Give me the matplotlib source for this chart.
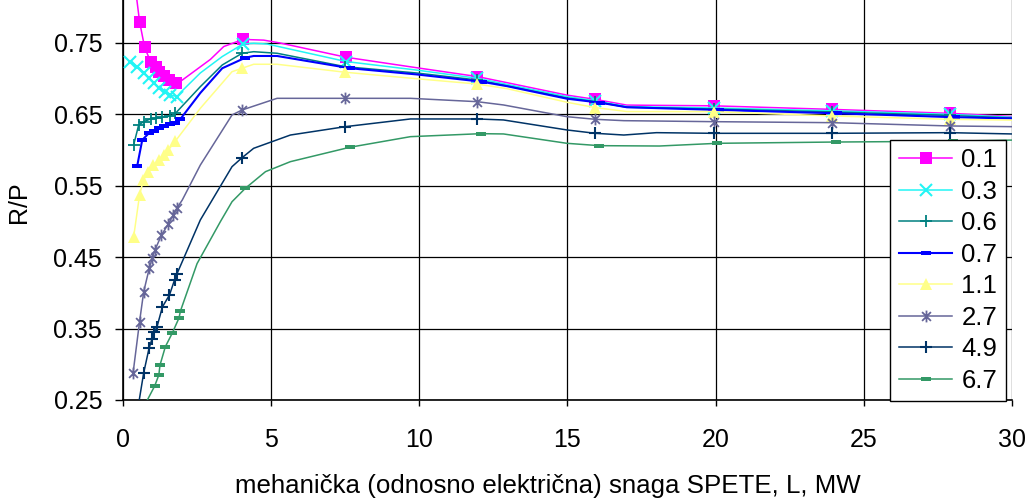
import numpy as np
import matplotlib
matplotlib.use("Agg")
import matplotlib.pyplot as plt
from matplotlib.path import Path
from matplotlib.lines import Line2D

plt.rcParams["font.family"] = ["Liberation Sans", "DejaVu Sans"]
FS = 18

# R/P vs L for different values (legend); each series: line vertices, indices carrying a marker
labels = ["0.1", "0.3", "0.6", "0.7", "1.1", "2.7", "4.9", "6.7"]

x_01 = [0.38, 0.56, 0.73, 0.93, 1.10, 1.23, 1.40, 1.57, 1.80, 2.0, 2.95, 3.4, 4.05, 4.75, 5.3,
        7.53, 9.9, 11.95, 12.96, 14.98, 15.94, 17.0, 19.93, 23.94, 27.9, 30.0]
y_01 = [0.84, 0.780, 0.744, 0.724, 0.717, 0.710, 0.704, 0.6975, 0.694, 0.698, 0.727, 0.745, 0.755,
        0.754, 0.750, 0.730, 0.7154, 0.703, 0.6944, 0.677, 0.671, 0.663, 0.662, 0.657, 0.6515, 0.647]
m_01 = [1, 2, 3, 4, 5, 6, 7, 8, 12, 15, 17, 20, 22, 23, 24]

x_03 = [0.25, 0.48, 0.70, 0.87, 1.04, 1.21, 1.43, 1.60, 1.83, 1.95, 2.61, 3.35, 4.05, 4.41, 4.86,
        7.53, 9.92, 11.95, 12.96, 14.98, 15.94, 17.0, 19.93, 23.94, 27.9, 30.0]
y_03 = [0.724, 0.717, 0.7076, 0.7006, 0.6936, 0.6866, 0.682, 0.677, 0.675, 0.681, 0.708, 0.731,
        0.7486, 0.7496, 0.7486, 0.724, 0.712, 0.7006, 0.692, 0.675, 0.669, 0.661, 0.659, 0.655,
        0.650, 0.646]
m_03 = [0, 1, 2, 3, 4, 5, 6, 7, 8, 12, 15, 17, 20, 22, 23, 24]

x_06 = [0.36, 0.53, 0.70, 0.93, 1.10, 1.32, 1.60, 1.77, 2.61, 3.35, 4.02, 4.41, 5.2, 7.5, 9.9,
        11.95, 12.96, 14.98, 15.94, 17.0, 19.93, 23.94, 27.9, 30.0]
y_06 = [0.6071, 0.6352, 0.6398, 0.6436, 0.6445, 0.6459, 0.6478, 0.6515, 0.6888, 0.7192, 0.7356,
        0.7378, 0.7356, 0.7168, 0.708, 0.6982, 0.690, 0.673, 0.6678, 0.660, 0.6576, 0.6534, 0.6485,
        0.645]
m_06 = [0, 1, 2, 3, 4, 5, 6, 7, 10, 13, 15, 18, 20, 21, 22]

x_07 = [0.48, 0.65, 0.87, 1.04, 1.21, 1.38, 1.60, 1.77, 1.94, 2.61, 3.35, 4.13, 4.41, 5.2, 7.67,
        9.9, 12.1, 12.96, 14.98, 16.1, 17.0, 20.1, 24.1, 28.08, 30.0]
y_07 = [0.5777, 0.6141, 0.6235, 0.6272, 0.6305, 0.6338, 0.6366, 0.6375, 0.6436, 0.680, 0.7146,
        0.7294, 0.7318, 0.7318, 0.7146, 0.706, 0.6958, 0.6895, 0.672, 0.6664, 0.660, 0.6562,
        0.6515, 0.646, 0.6443]
m_07 = [0, 1, 2, 3, 4, 5, 6, 7, 8, 11, 14, 16, 19, 21, 22, 23]

x_11 = [0.36, 0.56, 0.69, 0.86, 1.03, 1.20, 1.37, 1.53, 1.77, 2.61, 3.68, 4.02, 4.41, 5.2, 7.5,
        9.9, 11.95, 12.96, 14.98, 15.94, 17.0, 19.93, 23.94, 27.9, 30.0]
y_11 = [0.4783, 0.5371, 0.5581, 0.5693, 0.5791, 0.5861, 0.5931, 0.6001, 0.6127, 0.6585, 0.7098,
        0.7146, 0.7202, 0.7202, 0.709, 0.700, 0.6925, 0.686, 0.667, 0.6595, 0.654, 0.6538,
        0.6478, 0.6431, 0.642]
m_11 = [0, 1, 2, 3, 4, 5, 6, 7, 8, 11, 14, 16, 19, 21, 22, 23]

x_27 = [0.34, 0.56, 0.70, 0.89, 0.99, 1.08, 1.30, 1.53, 1.70, 1.82, 2.0, 2.61, 3.68, 4.02, 5.2,
        7.5, 9.7, 11.95, 12.84, 14.98, 15.94, 16.9, 19.93, 23.92, 27.9, 30.0]
y_27 = [0.2874, 0.3597, 0.4017, 0.4349, 0.4489, 0.4601, 0.4811, 0.4965, 0.5091, 0.5189, 0.530,
        0.579, 0.6492, 0.6562, 0.6725, 0.6725, 0.6725, 0.6678, 0.6632, 0.6468, 0.6431, 0.6412,
        0.6398, 0.6384, 0.6338, 0.6328]
m_27 = [0, 1, 2, 3, 4, 5, 6, 7, 8, 9, 13, 15, 17, 20, 22, 23, 24]

x_49 = [0.53, 0.70, 0.88, 0.98, 1.06, 1.15, 1.33, 1.57, 1.74, 1.82, 2.61, 3.68, 4.02, 4.41, 5.65,
        7.5, 9.7, 11.95, 12.84, 14.98, 15.94, 16.9, 18.0, 19.93, 23.92, 27.9, 30.0]
y_49 = [0.245, 0.2882, 0.3224, 0.3354, 0.3452, 0.3527, 0.3803, 0.3971, 0.4181, 0.4265, 0.5021,
        0.5768, 0.5894, 0.6025, 0.6211, 0.6328, 0.6436, 0.6436, 0.6422, 0.6282, 0.6235, 0.6211,
        0.6244, 0.6235, 0.6235, 0.6244, 0.6226]
m_49 = [1, 2, 3, 4, 5, 6, 7, 8, 9, 12, 15, 17, 20, 23, 24, 25]

x_67 = [0.76, 1.07, 1.21, 1.25, 1.43, 1.66, 1.89, 1.94, 2.5, 3.29, 3.68, 4.13, 4.81, 5.65, 7.65,
        9.7, 12.08, 12.84, 14.98, 16.07, 18.1, 20.06, 24.06, 25.87, 28.0, 30.0]
y_67 = [0.245, 0.2696, 0.285, 0.299, 0.3246, 0.3434, 0.3648, 0.3747, 0.441, 0.500, 0.5277,
        0.5465, 0.5698, 0.5838, 0.6039, 0.6188, 0.623, 0.6226, 0.6095, 0.6062, 0.6057, 0.6095,
        0.6113, 0.6118, 0.6125, 0.614]
m_67 = [1, 2, 3, 4, 5, 6, 7, 11, 14, 16, 19, 21, 22, 24]

xs = [x_01, x_03, x_06, x_07, x_11, x_27, x_49, x_67]
ys = [y_01, y_03, y_06, y_07, y_11, y_27, y_49, y_67]
ms_idx = [m_01, m_03, m_06, m_07, m_11, m_27, m_49, m_67]

# marker shapes
rect = Path([(-1, -0.55), (1, -0.55), (1, 0.55), (-1, 0.55), (-1, -0.55)],
            [Path.MOVETO, Path.LINETO, Path.LINETO, Path.LINETO, Path.CLOSEPOLY])
aster = Path([(0, -1), (0, 1), (-0.75, -0.75), (0.75, 0.75), (-0.75, 0.75), (0.75, -0.75)],
             [Path.MOVETO, Path.LINETO] * 3)

styles = [
    dict(color="#FF00FF", lw=1.1, marker="s", ms=8.5, mew=0),
    dict(color="#22F5F5", lw=1.1, marker="x", ms=8, mew=1.5),
    dict(color="#008080", lw=1.1, marker="+", ms=8, mew=1.3),
    dict(color="#0000FF", lw=1.5, marker=rect, ms=6.5, mew=0),
    dict(color="#FFFF88", lw=1.1, marker="^", ms=9, mew=0),
    dict(color="#666699", lw=1.1, marker=aster, ms=8.5, mew=1.3),
    dict(color="#003366", lw=1.1, marker="+", ms=8.5, mew=1.5),
    dict(color="#339966", lw=1.1, marker=rect, ms=6.5, mew=0),
]

fig = plt.figure(figsize=(10.29, 5.01), dpi=100)
ax = fig.add_axes([0.1195, 0.2016, 0.8640, 0.7984])

handles = []
for k, (x, y, mi, st) in enumerate(zip(xs, ys, ms_idx, styles)):
    x = np.array(x)
    y = np.array(y)
    ax.plot(x, y, color=st["color"], lw=st["lw"], zorder=3 + 2 * k)
    ax.plot(x[mi], y[mi], ls="none", marker=st["marker"], ms=st["ms"], mew=st["mew"],
            mfc=st["color"], mec=st["color"], zorder=4 + 2 * k)
    handles.append(Line2D([], [], color=st["color"], lw=st["lw"], marker=st["marker"],
                          ms=st["ms"], mew=st["mew"], mfc=st["color"], mec=st["color"]))

ax.set_xlim(0, 30)
ax.set_ylim(0.25, 0.8102)
ax.set_xticks(np.arange(0, 31, 5))
ax.set_yticks([0.25, 0.35, 0.45, 0.55, 0.65, 0.75])
ax.set_yticklabels(["0.25", "0.35", "0.45", "0.55", "0.65", "0.75"])
ax.grid(True, color="black", lw=0.9, zorder=1)
ax.set_axisbelow(True)
for s in ("top", "right"):
    ax.spines[s].set_visible(False)
for s in ("left", "bottom"):
    ax.spines[s].set_linewidth(1.2)
ax.tick_params(axis="y", direction="out", length=6, width=1, pad=9, labelsize=FS)
ax.tick_params(axis="x", direction="out", length=4, width=1, pad=16, labelsize=FS)

leg = ax.legend(handles, labels, loc="upper left", bbox_to_anchor=(0.8628, 0.65),
                borderaxespad=0, fontsize=FS + 0.5, frameon=True, fancybox=False,
                framealpha=1, edgecolor="black", handlelength=2.1, handletextpad=0.35,
                labelspacing=0.29, borderpad=0.33)
leg.get_frame().set_linewidth(1.0)
leg.set_zorder(30)

fig.text(19 / 1029, 1 - 202 / 501, "R/P", rotation=90, ha="center", va="center", fontsize=FS)
fig.text(548 / 1029, 1 - 486 / 501, "mehanička (odnosno električna) snaga SPETE, L, MW",
         ha="center", va="center", fontsize=18.6)

fig.savefig("out.png", dpi=100)
